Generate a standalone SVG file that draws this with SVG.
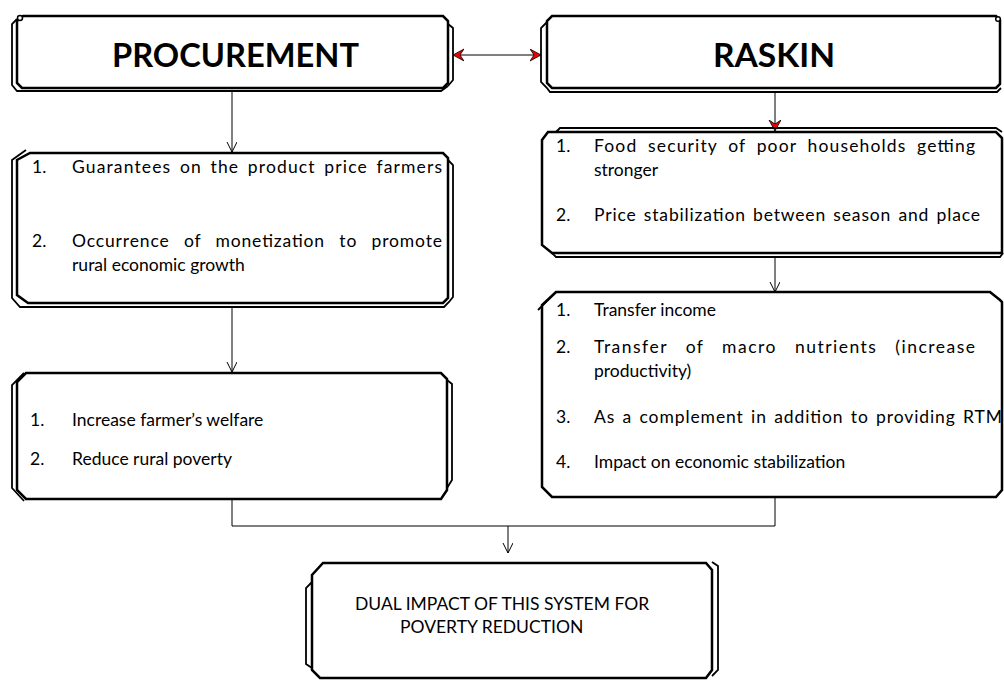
<svg xmlns="http://www.w3.org/2000/svg" width="1004" height="680" viewBox="0 0 1004 680">
<style>
.m{fill:#fff;stroke:#000;stroke-width:2.5;stroke-linejoin:miter}
.d{fill:none;stroke:#000;stroke-width:1.8}
.c{fill:none;stroke:#000;stroke-width:1}
.t{font-family:Lato,"Liberation Sans",Arial,sans-serif;font-size:17.5px;fill:#000}
.h{font-family:Lato,"Liberation Sans",Arial,sans-serif;font-size:32px;font-weight:bold;fill:#000}
</style>
<defs>
<marker id="open" markerWidth="12" markerHeight="12" refX="10" refY="5" orient="auto" markerUnits="userSpaceOnUse">
<path d="M0,0 L10,5 L0,10" fill="none" stroke="#000" stroke-width="1"/>
</marker>
<marker id="red" markerWidth="14" markerHeight="14" refX="11" refY="6" orient="auto-start-reverse" markerUnits="userSpaceOnUse">
<path d="M0,0 L11,6 L0,12 L4,6 Z" fill="#e00" stroke="#000" stroke-width="0.8"/>
</marker>
</defs>
<rect width="1004" height="680" fill="#fff"/>

<g id="connectors">
<line class="c" x1="453" y1="55" x2="541" y2="55" marker-start="url(#red)" marker-end="url(#red)"/>
<line class="c" x1="232" y1="92" x2="232" y2="152" marker-end="url(#open)"/>
<line class="c" x1="232" y1="307" x2="232" y2="372" marker-end="url(#open)"/>
<line class="c" x1="775" y1="92" x2="775" y2="131" marker-end="url(#red)"/>
<line class="c" x1="775" y1="257" x2="775" y2="292" marker-end="url(#open)"/>
<path class="c" d="M232,499 L232,526 L775,526 L775,497"/>
<line class="c" x1="508" y1="526" x2="508" y2="553" marker-end="url(#open)"/>
</g>

<g id="procurement">
<path class="m" d="M23,16 L443,16 L448,21 L448,83 L443,88 L22,88 L17,83 L17,21 Z"/>
<path class="d" d="M17,19 L12,24 L12,85 L17,91 L441,91 L448,86"/>
<path class="d" d="M448,24 L453,28 L453,80 L448,86"/>
<circle cx="20" cy="18" r="2.5" fill="#fff" stroke="#000" stroke-width="1.5"/>
<text class="h" x="112" y="67" textLength="247" lengthAdjust="spacingAndGlyphs">PROCUREMENT</text>
</g>

<g id="raskin">
<path class="m" d="M552,16 L996,16 L1000,20 L1000,84 L996,88 L552,88 L547,83 L547,21 Z"/>
<path class="d" d="M547,22 L541,28 L541,82 L547,88 L550,92 L997,92 L1001,88"/>
<circle cx="998" cy="19" r="2.3" fill="#fff" stroke="#000" stroke-width="1.5"/>
<text class="h" x="713" y="67" textLength="122" lengthAdjust="spacingAndGlyphs">RASKIN</text>
</g>

<g id="procurement-effects">
<path class="m" d="M30,153 L443,153 L448,158 L448,298 L443,303 L28,303 L17,295 L17,160 Z"/>
<path class="d" d="M26,150 L12,160 L12,298 L20,307 L444,307 L449,302 L453,297 L453,165 L448,160"/>
<text class="t"><tspan x="32" y="173">1.</tspan><tspan x="72" y="173" word-spacing="3" textLength="370">Guarantees on the product price farmers</tspan></text>
<text class="t"><tspan x="32" y="247">2.</tspan><tspan x="72" y="247" word-spacing="9" textLength="370">Occurrence of monetization to promote</tspan></text>
<text class="t" x="72" y="271">rural economic growth</text>
</g>

<g id="raskin-effects">
<path class="m" d="M548,132 L996,132 L1002,138 L1002,253 L552,253 L542,245 L542,140 Z"/>
<path class="d" d="M556,132 L560,128 L996,128 L1002,132"/>
<path class="d" d="M552,253 L556,257 L1000,257 L1003,253"/>
<text class="t"><tspan x="556" y="152">1.</tspan><tspan x="594" y="152" word-spacing="5" textLength="381">Food security of poor households getting</tspan></text>
<text class="t" x="594" y="176">stronger</text>
<text class="t"><tspan x="556" y="221">2.</tspan><tspan x="594" y="221" word-spacing="2" textLength="386">Price stabilization between season and place</tspan></text>
</g>

<g id="raskin-impacts">
<path class="m" d="M556,292 L990,292 L1000,300 L1002,302 L1002,490 L996,497 L552,497 L542,487 L542,305 Z"/>
<path class="d" d="M556,292 L548,300 L538,310"/>
<text class="t"><tspan x="556" y="316">1.</tspan><tspan x="594" y="316">Transfer income</tspan></text>
<text class="t"><tspan x="556" y="353">2.</tspan><tspan x="594" y="353" word-spacing="12" textLength="381">Transfer of macro nutrients (increase</tspan></text>
<text class="t" x="594" y="377">productivity)</text>
<text class="t"><tspan x="556" y="423">3.</tspan><tspan x="594" y="423" word-spacing="2" textLength="408">As a complement in addition to providing RTM</tspan></text>
<text class="t"><tspan x="556" y="468">4.</tspan><tspan x="594" y="468">Impact on economic stabilization</tspan></text>
</g>

<g id="procurement-impacts">
<path class="m" d="M26,373 L441,373 L447,379 L447,490 L441,499 L26,499 L17,490 L17,382 Z"/>
<path class="d" d="M24,373 L12,385 L12,488 L24,501"/>
<path class="d" d="M447,380 L452,384 L452,480 L447,488"/>
<text class="t"><tspan x="30" y="426">1.</tspan><tspan x="72" y="426">Increase farmer’s welfare</tspan></text>
<text class="t"><tspan x="30" y="465">2.</tspan><tspan x="72" y="465">Reduce rural poverty</tspan></text>
</g>

<g id="dual-impact">
<path class="m" d="M323,563 L706,563 L712,570 L712,670 L706,678 L320,678 L312,670 L312,575 Z"/>
<path class="d" d="M312,582 L306,588 L306,664 L312,668"/>
<path class="d" d="M712,562 L718,566 L718,670 L712,676"/>
<text class="t" x="355" y="610">DUAL IMPACT OF THIS SYSTEM FOR</text>
<text class="t" x="400" y="633">POVERTY REDUCTION</text>
</g>
</svg>
